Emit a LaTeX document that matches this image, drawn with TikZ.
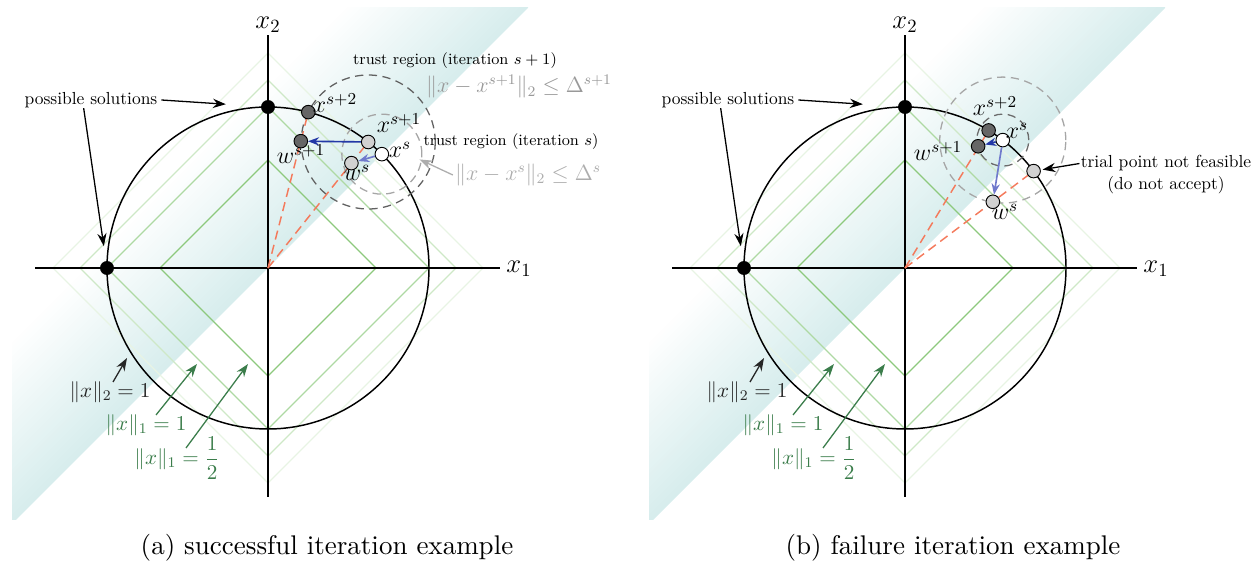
\RequirePackage{fix-cm}
\documentclass[tikz,border=0pt]{standalone}
\usepackage{amsmath, amssymb}
\usepackage{tikz}
\usetikzlibrary{arrows.meta, positioning, calc}
\usepackage{xcolor}
\definecolor{bandteal}{HTML}{D7EDED}
\definecolor{lonegreen}{HTML}{7DC26B}
\definecolor{normgreen}{HTML}{3B7D4B}
\definecolor{stepblue}{HTML}{2338A6}
\definecolor{trialblue}{HTML}{7079CC}
\definecolor{rayred}{HTML}{F47A5C}
\tikzset{
  soldot/.style={circle, fill=black, inner sep=0pt, minimum size=7.6pt},
  iterdot/.style={circle, draw=black, line width=0.5pt, inner sep=0pt, minimum size=7.4pt},
  ptlbl/.style={font=\fontsize{13}{15}\selectfont, inner sep=0pt},
  axlbl/.style={font=\fontsize{14.5}{16}\selectfont, inner sep=0pt},
  smalltext/.style={font=\fontsize{9.5}{11.5}\selectfont, inner sep=0pt},
  trtext/.style={font=\fontsize{8.6}{10}\selectfont, inner sep=0pt},
  normlbl/.style={font=\fontsize{11.5}{13}\selectfont, inner sep=0pt},
  trnorm/.style={font=\fontsize{12}{14}\selectfont, inner sep=0pt},
  captext/.style={font=\fontsize{10}{12}\selectfont, inner sep=0pt, scale=1.47, transform shape},
  trustcirc/.style={dash pattern=on 4.5pt off 3pt, line width=0.7pt},
  ray/.style={rayred, dash pattern=on 5pt off 3pt, line width=0.8pt},
  lblarrow/.style={-{Stealth[length=7pt, width=5pt]}, line width=0.7pt},
  steparrow/.style={-{Stealth[length=6pt, width=4.5pt]}, line width=0.9pt},
}

\begin{document}
\begin{tikzpicture}[x=0.019139cm, y=0.019139cm]
  \useasboundingbox (0,0) rectangle (1254,563);

  % what both panels share
  \foreach \ox/\p in {268/a, 905/b} {
    \begin{scope}[shift={(\ox,295)}, name prefix=\p-]
      \begin{scope}
        \clip (-256,-252) rectangle (260,260);
        % band fades out towards the upper left
        \begin{scope}[rotate=45]
          \foreach \i [evaluate=\i as \c using 100-2.5*\i] in {0,...,39}
            \fill[bandteal!\c] (-600,\i*3.2) rectangle (600,\i*3.2+3.7);
        \end{scope}
      \end{scope}
      \foreach \r/\c in {215/18, 188/38, 161/62, 108/88}
        \draw[lonegreen!\c, line width=0.6pt] (\r,0) -- (0,\r) -- (-\r,0) -- (0,-\r) -- cycle;
      \draw[line width=0.7pt] (-233,0) -- (232,0);
      \draw[line width=0.7pt] (0,-229) -- (0,233);
      \node[axlbl] (xone) at (251,-1) {$x_1$};
      \node[axlbl] (xtwo) at (0,243) {$x_2$};
      \draw[line width=0.8pt] (0,0) circle[radius=161];
      \node[soldot] (soltop) at (0,161) {};
      \node[soldot] (solleft) at (-161,0) {};
      \node[smalltext] (poss) at (-177,168) {possible solutions};
      \draw[lblarrow, shorten >=19pt] ([xshift=2pt]poss.east) -- (soltop);
      \draw[lblarrow, shorten >=8pt] ([xshift=-4pt]poss.south) -- (solleft);
      % norm labels
      \node[normlbl, text=black!85] (ltwo) at (-158,-124) {$\|x\|_2 = 1$};
      \node[normlbl, text=normgreen] (lone) at (-122,-157) {$\|x\|_1 = 1$};
      \node[normlbl, text=normgreen] (lhalf) at (-91,-190) {$\|x\|_1 = \dfrac{1}{2}$};
      \coordinate (ltwotip) at (-141,-90);
      \coordinate (lonetip) at (-71,-96);
      \coordinate (lhalftip) at (-20,-96);
      \draw[lblarrow, black!85] ($(ltwo.center)+(3,10)$) -- (ltwotip);
      \draw[lblarrow, normgreen] ($(lone.center)+(10,10)$) -- (lonetip);
      \draw[lblarrow, normgreen] ($(lhalf.center)+(9,10)$) -- (lhalftip);
    \end{scope}
  }

  % (a) successful iteration
  \begin{scope}[shift={(268,295)}, name prefix=a-]
    \coordinate (o) at (0,0);
    \coordinate (pxs) at (45:161);
    \coordinate (pxs1) at (51.5:161);
    \coordinate (pxs2) at (75.5:161);
    \coordinate (pws) at (51.5:134);
    \coordinate (pws1) at (75.5:131);
    \draw[ray] (o) -- (pxs2);
    \draw[ray] (o) -- (pxs1);
    \draw[trustcirc, black!35] (pxs) circle[radius=40];
    \draw[trustcirc, black!62] (pxs1) circle[radius=67];
    \node[iterdot, fill=black!60] (xs2) at (pxs2) {};
    \node[iterdot, fill=black!18] (xs1) at (pxs1) {};
    \node[iterdot, fill=white] (xs) at (pxs) {};
    \node[iterdot, fill=black!60] (ws1) at (pws1) {};
    \node[iterdot, fill=black!18] (ws) at (pws) {};
    \draw[steparrow, stepblue] (xs1) -- (ws1);
    \draw[steparrow, trialblue] (xs) -- (ws);
    \node[ptlbl] (lxs2) at (67,165) {$x^{s+2}$};
    \node[ptlbl] (lxs1) at (131,145) {$x^{s+1}$};
    \node[ptlbl] (lxs) at (132,118) {$x^{s}$};
    \node[ptlbl] (lws1) at (33,114) {$w^{s+1}$};
    \node[ptlbl] (lws) at (89,95) {$w^{s}$};
    \node[trtext] (trnext) at (187,207) {trust region (iteration $s+1$)};
    \node[trnorm, text=black!40] (dnext) at (251,181) {$\|x-x^{s+1}\|_2\le\Delta^{s+1}$};
    \node[trtext] (trcur) at (243,126) {trust region (iteration $s$)};
    \node[trnorm, text=black!32] (dcur) at (260,93) {$\|x-x^{s}\|_2\le\Delta^{s}$};
    \coordinate (dcurtip) at ($(pxs)+(-8:38)$);
    \draw[lblarrow, black!32] ([xshift=-1pt]dcur.west) -- (dcurtip);
  \end{scope}

  % (b) failure iteration
  \begin{scope}[shift={(905,295)}, name prefix=b-]
    \coordinate (o) at (0,0);
    \coordinate (pxs) at (52.6:161);
    \coordinate (pxs2) at (58.7:161);
    \coordinate (pws1) at (59:142);
    \coordinate (ptrial) at (37:161);
    \coordinate (pws) at (37:110);
    \draw[ray] (o) -- (pxs2);
    \draw[ray] (o) -- (ptrial);
    \draw[trustcirc, black!35] (pxs) circle[radius=63];
    \draw[trustcirc, black!58] (pxs) circle[radius=26];
    \node[iterdot, fill=black!60] (xs2) at (pxs2) {};
    \node[iterdot, fill=black!60] (ws1) at (pws1) {};
    \node[iterdot, fill=black!18] (trial) at (ptrial) {};
    \node[iterdot, fill=black!18] (ws) at (pws) {};
    \node[iterdot, fill=white] (xs) at (pxs) {};
    \draw[steparrow, stepblue] (xs) -- (ws1);
    \draw[steparrow, trialblue] (xs) -- (ws);
    \node[ptlbl] (lxs2) at (90,162) {$x^{s+2}$};
    \node[ptlbl] (lxs) at (112,137) {$x^{s}$};
    \node[ptlbl] (lws1) at (33,117) {$w^{s+1}$};
    \node[ptlbl] (lws) at (100,56) {$w^{s}$};
    \node[smalltext, align=center] (trialtxt) at (261,93.5) {trial point not feasible\\(do not accept)};
    \draw[lblarrow, shorten >=1pt] ($(trialtxt.west)+(-1,11)$) -- (trial);
  \end{scope}

  \node[captext] (capa) at (327,15) {(a) successful iteration example};
  \node[captext] (capb) at (953,15) {(b) failure iteration example};
\end{tikzpicture}
\end{document}
